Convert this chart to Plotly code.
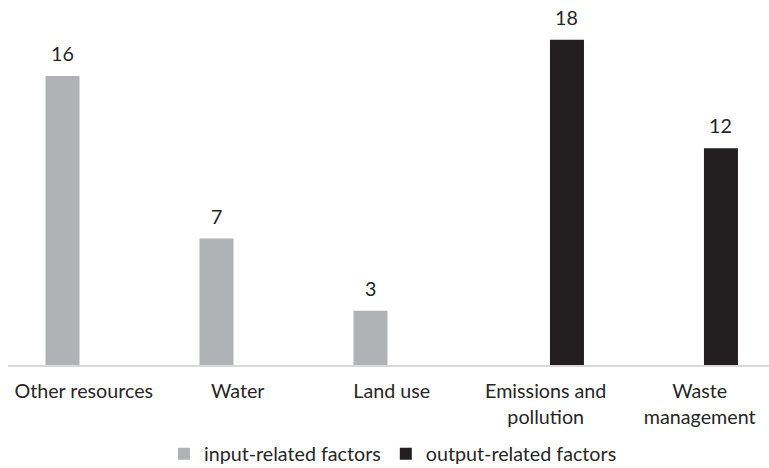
import plotly.graph_objects as go

# Categories and counts
categories = ["Other resources", "Water", "Land use", "Emissions and<br>pollution", "Waste<br>management"]
input_related = [16, 7, 3, None, None]
output_related = [None, None, None, 18, 12]

series_names = ["input-related factors", "output-related factors"]
series_colors = ["#b1b2b5", "#231f20"]

BARGAP = 0.448
BARGROUPGAP = 0.2
FONT = "Lato"
FONT_SIZE = 19.7
TEXT_COLOR = "#262626"

fig = go.Figure()
for name, vals, color in zip(series_names, [input_related, output_related], series_colors):
    fig.add_trace(go.Bar(
        x=categories, y=vals, name=name,
        marker=dict(color=color, line=dict(width=0)),
    ))

# value labels above the bars, offset to each bar's slot in the group
slot = (1 - BARGAP) / 4
for s, vals in enumerate([input_related, output_related]):
    dx = -slot if s == 0 else slot
    for i, v in enumerate(vals):
        if v is None:
            continue
        fig.add_annotation(
            x=i + dx, y=v, text=str(v), showarrow=False,
            xref="x", yref="y", yanchor="bottom", yshift=9,
            font=dict(family=FONT, size=FONT_SIZE, color=TEXT_COLOR),
        )

fig.update_layout(
    width=769, height=468,
    margin=dict(l=8, r=0, t=10, b=103, autoexpand=False),
    paper_bgcolor="white", plot_bgcolor="white",
    barmode="group", bargap=BARGAP, bargroupgap=BARGROUPGAP,
    font=dict(family=FONT, size=FONT_SIZE, color=TEXT_COLOR),
    showlegend=True,
    legend=dict(
        orientation="h", xref="container", x=0.511, xanchor="center",
        yref="container", y=0.03, yanchor="middle",
        font=dict(family=FONT, size=FONT_SIZE, color=TEXT_COLOR),
        itemwidth=30, traceorder="normal",
    ),
    xaxis=dict(
        type="category", range=[-0.492, 4.45],
        showline=True, linecolor="#d9d9d9", linewidth=1.5,
        showgrid=False, ticks="", ticklabelstandoff=8,
        tickfont=dict(family=FONT, size=FONT_SIZE, color=TEXT_COLOR),
    ),
    yaxis=dict(
        range=[0, 19.65], visible=False, showgrid=False, zeroline=False,
    ),
)

fig.write_html("out.html")
